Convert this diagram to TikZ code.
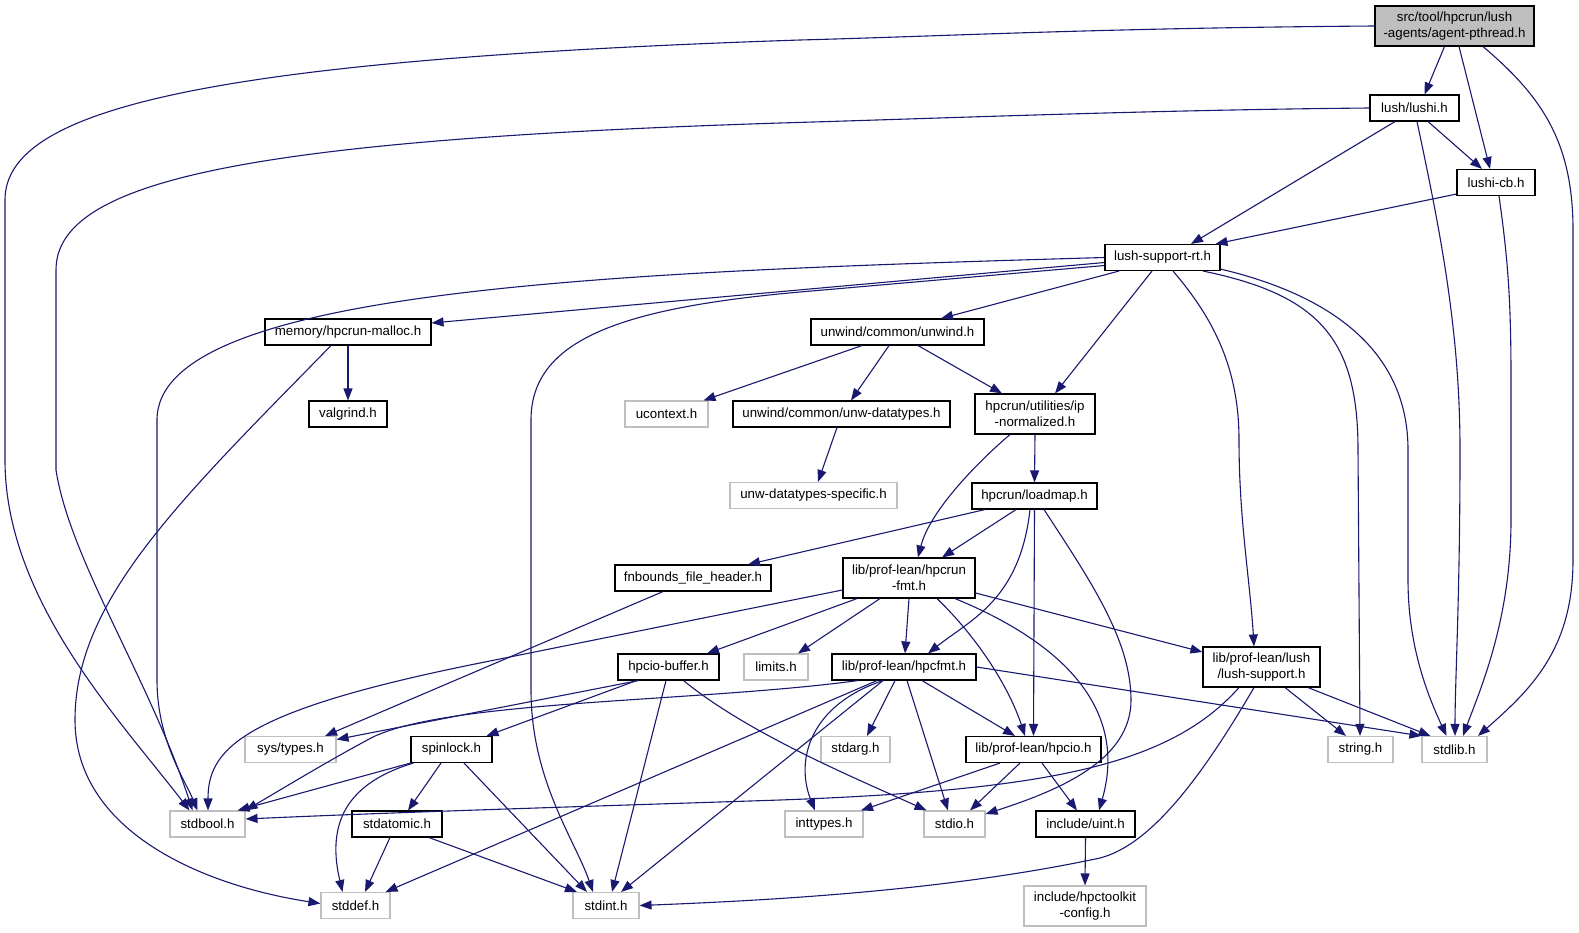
\documentclass[tikz,border=0pt]{standalone}
\usepackage{fontspec}
\setmainfont{Liberation Sans}
\usetikzlibrary{arrows.meta}
\definecolor{edgeblue}{HTML}{191970}
\definecolor{sysgray}{HTML}{BFBFBF}
\tikzset{
  hdr/.style={draw=black, line width=1.1pt, fill=white, inner sep=0pt, align=center,
    font=\fontsize{13.3}{16}\selectfont, text=black},
  sys/.style={hdr, draw=sysgray},
  root/.style={hdr, fill=sysgray},
  one/.style={minimum height=26pt},
  two/.style={minimum height=40pt},
  edge/.style={draw=edgeblue, line width=1.1pt, -{Triangle[length=12pt,width=9pt]}}
}
\begin{document}
\begin{tikzpicture}[x=1pt,y=-1pt]
\fill[white] (0,0) rectangle (1579,932);
\useasboundingbox (0,0) rectangle (1579,932);
% nodes
\node[root,two,minimum width=159pt] (agent) at (1454.5,26) {src/tool/hpcrun/lush\\-agents/agent-pthread.h};
\node[hdr,one,minimum width=89pt] (lushi) at (1414.5,108) {lush/lushi.h};
\node[hdr,one,minimum width=78pt] (lushicb) at (1496,182.5) {lushi-cb.h};
\node[hdr,one,minimum width=115pt] (lsrt) at (1162.5,257.5) {lush-support-rt.h};
\node[hdr,one,minimum width=166pt] (malloc) at (348,332) {memory/hpcrun-malloc.h};
\node[hdr,one,minimum width=173pt] (unwind) at (897.5,332) {unwind/common/unwind.h};
\node[hdr,one,minimum width=78pt] (valgrind) at (348,414) {valgrind.h};
\node[sys,one,minimum width=83pt] (ucontext) at (666.5,414) {ucontext.h};
\node[hdr,one,minimum width=217pt] (unwdt) at (841.5,414) {unwind/common/unw-datatypes.h};
\node[hdr,two,minimum width=120pt] (ipnorm) at (1035,414) {hpcrun/utilities/ip\\-normalized.h};
\node[sys,one,minimum width=167pt] (unwdts) at (813.5,495.5) {unw-datatypes-specific.h};
\node[hdr,one,minimum width=125pt] (loadmap) at (1034.5,496) {hpcrun/loadmap.h};
\node[hdr,one,minimum width=156pt] (fnbounds) at (693,578) {fnbounds\_file\_header.h};
\node[hdr,two,minimum width=132pt] (hpcrunfmt) at (909,578) {lib/prof-lean/hpcrun\\-fmt.h};
\node[hdr,one,minimum width=101pt] (hpciobuf) at (668.5,667) {hpcio-buffer.h};
\node[sys,one,minimum width=64pt] (limits) at (776,667) {limits.h};
\node[hdr,one,minimum width=144pt] (hpcfmt) at (904,667) {lib/prof-lean/hpcfmt.h};
\node[hdr,two,minimum width=117pt] (lushsup) at (1261.5,667) {lib/prof-lean/lush\\/lush-support.h};
\node[sys,one,minimum width=91pt] (systypes) at (290.5,749.5) {sys/types.h};
\node[hdr,one,minimum width=81pt] (spinlock) at (451.5,749.5) {spinlock.h};
\node[sys,one,minimum width=69pt] (stdarg) at (855.5,749.5) {stdarg.h};
\node[hdr,one,minimum width=135pt] (hpcio) at (1033.5,749.5) {lib/prof-lean/hpcio.h};
\node[sys,one,minimum width=65pt] (string) at (1360.5,749.5) {string.h};
\node[sys,one,minimum width=65pt] (stdlib) at (1454.5,749.5) {stdlib.h};
\node[sys,one,minimum width=75pt] (stdbool) at (207.5,824) {stdbool.h};
\node[hdr,one,minimum width=90pt] (stdatomic) at (397,824) {stdatomic.h};
\node[sys,one,minimum width=78pt] (inttypes) at (824,824) {inttypes.h};
\node[sys,one,minimum width=61pt] (stdio) at (954.5,824) {stdio.h};
\node[hdr,one,minimum width=99pt] (uint) at (1085.5,824) {include/uint.h};
\node[sys,one,minimum width=69pt] (stddef) at (355.5,905.5) {stddef.h};
\node[sys,one,minimum width=66pt] (stdint) at (606,905.5) {stdint.h};
\node[sys,two,minimum width=122pt] (hpctoolkit) at (1085,906) {include/hpctoolkit\\-config.h};
% edges from agent
\draw[edge] (agent.west) .. controls (1100,28) and (950,36) .. (800,40) .. controls (200,60) and (5,110) .. (5,200) -- (5,460) .. controls (5,600) and (120,720) .. ([xshift=-18pt]stdbool.north);
\draw[edge] ([xshift=-10pt]agent.south) -- ([xshift=10pt]lushi.north);
\draw[edge] ([xshift=4.5pt]agent.south) -- ([xshift=-6pt]lushicb.north);
\draw[edge] ([xshift=28.5pt]agent.south) .. controls (1540,95) and (1573,140) .. (1573,230) -- (1573,560) .. controls (1573,650) and (1530,690) .. ([xshift=23.5pt]stdlib.north);
% lushi
\draw[edge] (lushi.west) .. controls (1150,110) and (950,118) .. (780,123) .. controls (250,140) and (56,180) .. (56,270) -- (56,470) .. controls (70,560) and (150,680) .. ([xshift=-15pt]stdbool.north);
\draw[edge] ([xshift=13.5pt]lushi.south) -- ([xshift=-14pt]lushicb.north);
\draw[edge] ([xshift=-19.5pt]lushi.south) -- ([xshift=28.5pt]lsrt.north);
\draw[edge] ([xshift=2.5pt]lushi.south) .. controls (1440,230) and (1460,330) .. (1460,450) .. controls (1460,600) and (1455,680) .. ([xshift=0.5pt]stdlib.north);
% lushi-cb
\draw[edge] ([yshift=2pt]lushicb.south west) -- ([xshift=53pt]lsrt.north);
\draw[edge] ([xshift=3pt]lushicb.south) .. controls (1508,260) and (1511,300) .. (1511,380) -- (1511,520) .. controls (1511,620) and (1480,690) .. ([xshift=8.5pt]stdlib.north);
% lush-support-rt
\draw[edge] (lsrt.west) .. controls (600,272) and (157,290) .. (157,420) -- (157,680) .. controls (157,740) and (185,780) .. ([xshift=-10pt]stdbool.north);
\draw[edge] ([yshift=-5pt]lsrt.west) -- ([yshift=9pt]malloc.east);
\draw[edge] ([yshift=-8pt]lsrt.west) -- (800,292) .. controls (620,308) and (531,340) .. (531,420) -- (531,690) .. controls (531,780) and (575,840) .. ([xshift=-13pt]stdint.north);
\draw[edge] ([xshift=-43.5pt]lsrt.south) -- ([xshift=43.5pt]unwind.north);
\draw[edge] ([xshift=-10.5pt]lsrt.south) -- ([xshift=20pt]ipnorm.north);
\draw[edge] ([xshift=10.5pt]lsrt.south) .. controls (1215,320) and (1239,370) .. (1239,440) .. controls (1239,520) and (1250,580) .. ([xshift=-7.5pt]lushsup.north);
\draw[edge] ([xshift=40.5pt]lsrt.south) .. controls (1320,295) and (1358,340) .. (1358,450) -- ([xshift=-0.5pt]string.north);
\draw[edge] ([yshift=2pt]lsrt.south east) .. controls (1330,295) and (1408,350) .. (1408,450) -- (1408,580) .. controls (1408,650) and (1430,700) .. ([xshift=-8pt]stdlib.north);
% malloc
\draw[edge] (malloc.south) -- (valgrind.north);
\draw[edge] ([xshift=-17pt]malloc.south) .. controls (180,500) and (75,600) .. (75,720) .. controls (75,830) and (200,885) .. ([yshift=2pt]stddef.west);
% unwind
\draw[edge] ([xshift=-35.5pt]unwind.south) -- ([xshift=37pt]ucontext.north);
\draw[edge] ([xshift=-8.5pt]unwind.south) -- ([xshift=9.5pt]unwdt.north);
\draw[edge] ([xshift=20.5pt]unwind.south) -- ([xshift=-33pt]ipnorm.north);
\draw[edge] ([xshift=-4.5pt]unwdt.south) -- ([xshift=4.5pt]unwdts.north);
% ip-normalized
\draw[edge] (ipnorm.south) -- (loadmap.north);
\draw[edge] ([xshift=-25pt]ipnorm.south) .. controls (980,460) and (930,510) .. ([xshift=9pt]hpcrunfmt.north);
% loadmap
\draw[edge] ([xshift=-49.5pt]loadmap.south) -- ([xshift=55pt]fnbounds.north);
\draw[edge] ([xshift=-18.5pt]loadmap.south) -- ([xshift=33pt]hpcrunfmt.north);
\draw[edge] ([xshift=-4.5pt]loadmap.south) .. controls (1020,600) and (970,620) .. ([xshift=24pt]hpcfmt.north);
\draw[edge] (loadmap.south) -- (hpcio.north);
\draw[edge] ([xshift=9.5pt]loadmap.south) .. controls (1090,580) and (1131,640) .. (1131,700) .. controls (1131,760) and (1060,790) .. ([yshift=10pt]stdio.east);
% fnbounds
\draw[edge] ([xshift=-30pt]fnbounds.south) -- ([xshift=34.5pt]systypes.north);
% hpcrun-fmt
\draw[edge] ([yshift=-12pt]hpcrunfmt.west) -- (470,665) .. controls (240,712) and (208,750) .. ([xshift=0.5pt]stdbool.north);
\draw[edge] ([xshift=-52pt]hpcrunfmt.south) -- ([xshift=38.5pt]hpciobuf.north);
\draw[edge] ([xshift=-29pt]hpcrunfmt.south) -- ([xshift=22pt]limits.north);
\draw[edge] (hpcrunfmt.south) -- ([xshift=1pt]hpcfmt.north);
\draw[edge] ([xshift=28pt]hpcrunfmt.south) .. controls (980,640) and (1010,690) .. ([xshift=-8.5pt]hpcio.north);
\draw[edge] ([xshift=46pt]hpcrunfmt.south) .. controls (1080,650) and (1125,720) .. ([xshift=13.5pt]uint.north);
\draw[edge] ([yshift=-15pt]hpcrunfmt.east) -- ([yshift=15pt]lushsup.west);
% hpcio-buffer
\draw[edge] ([xshift=-30pt]hpciobuf.south) -- ([yshift=10pt]systypes.east);
\draw[edge] ([xshift=-32pt]hpciobuf.south) -- ([xshift=35pt]spinlock.north);
\draw[edge] ([xshift=-2.5pt]hpciobuf.south) -- ([xshift=6pt]stdint.north);
\draw[edge] ([xshift=15pt]hpciobuf.south) .. controls (750,735) and (860,780) .. ([xshift=-28pt]stdio.north);
% hpcfmt
\draw[edge] ([xshift=-46pt]hpcfmt.south) .. controls (700,702) and (450,700) .. (373,737) .. controls (335,757) and (280,790) .. (stdbool.north east);
\draw[edge] ([xshift=18pt]hpcfmt.south) -- ([xshift=-18.5pt]hpcio.north);
\draw[edge] ([xshift=-9pt]hpcfmt.south) -- ([xshift=11.5pt]stdarg.north);
\draw[edge] ([xshift=3pt]hpcfmt.south) -- ([xshift=-6.5pt]stdio.north);
\draw[edge] ([xshift=-21pt]hpcfmt.south) .. controls (810,705) and (795,760) .. ([xshift=-9pt]inttypes.north);
\draw[edge] ([xshift=-21pt]hpcfmt.south) -- ([xshift=15pt]stdint.north);
\draw[edge] ([xshift=-27pt]hpcfmt.south) -- ([xshift=30pt]stddef.north);
\draw[edge] (hpcfmt.east) -- (stdlib.north west);
% lush-support
\draw[edge] ([xshift=23.5pt]lushsup.south) -- ([xshift=-14.5pt]string.north);
\draw[edge] ([xshift=46.5pt]lushsup.south) -- ([xshift=-24pt]stdlib.north);
\draw[edge] ([xshift=-22.5pt]lushsup.south) .. controls (1170,765) and (1050,790) .. (780,800) .. controls (600,806) and (400,812) .. ([yshift=5pt]stdbool.east);
\draw[edge] ([xshift=-7.5pt]lushsup.south) .. controls (1200,780) and (1150,845) .. (1100,858) .. controls (950,890) and (780,900) .. (stdint.east);
% hpcio
\draw[edge] ([xshift=-33.5pt]hpcio.south) -- ([xshift=37pt]inttypes.north);
\draw[edge] ([xshift=-13.5pt]hpcio.south) -- ([xshift=15.5pt]stdio.north);
\draw[edge] ([xshift=8.5pt]hpcio.south) -- ([xshift=-8.5pt]uint.north);
% spinlock
\draw[edge] (spinlock.south west) -- ([xshift=30pt]stdbool.north);
\draw[edge] ([xshift=3pt]spinlock.south west) .. controls (340,785) and (328,830) .. ([xshift=-13pt]stddef.north);
\draw[edge] ([xshift=-10.5pt]spinlock.south) -- ([xshift=11pt]stdatomic.north);
\draw[edge] ([xshift=12.5pt]spinlock.south) -- ([xshift=-19pt]stdint.north);
% stdatomic
\draw[edge] ([xshift=-7pt]stdatomic.south) -- ([xshift=9.5pt]stddef.north);
\draw[edge] ([xshift=32pt]stdatomic.south) -- ([xshift=-29pt]stdint.north);
% uint
\draw[edge] (uint.south) -- (hpctoolkit.north);
\end{tikzpicture}
\end{document}
